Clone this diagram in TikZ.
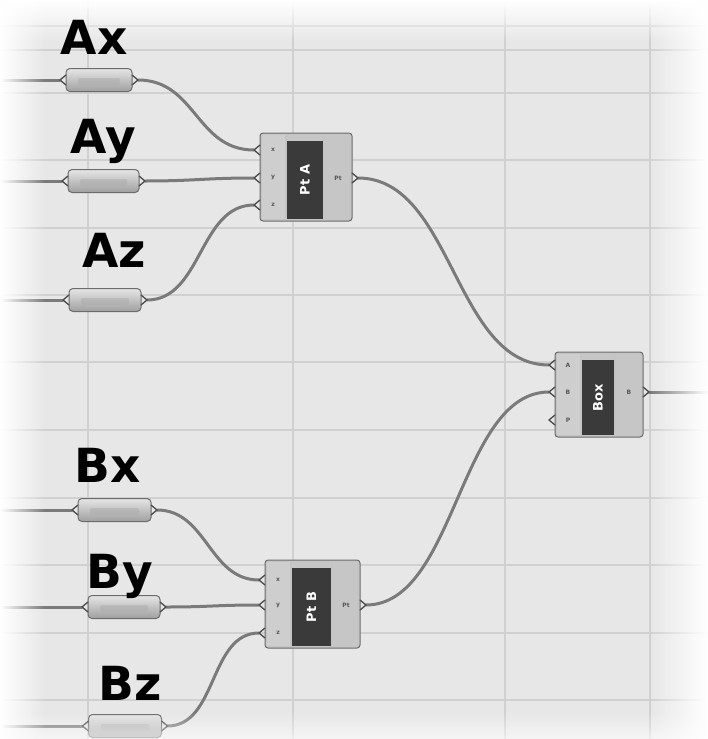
\documentclass[tikz,border=0pt]{standalone}
\usepackage{fontspec}
\setmainfont{DejaVu Sans}
\usetikzlibrary{fadings,calc}

\definecolor{canvasbg}{HTML}{E7E7E7}
\definecolor{gridcol}{HTML}{D0D0D0}
\definecolor{wirecol}{HTML}{7A7A7A}
\definecolor{framecol}{HTML}{6C6C6C}
\definecolor{bodycol}{HTML}{C4C4C4}
\definecolor{colcol}{HTML}{CECECE}
\definecolor{darkcol}{HTML}{3A3A3A}

\pgfdeclarelayer{canvas}
\pgfdeclarelayer{wires}
\pgfsetlayers{canvas,wires,main}

\tikzset{
  gridline/.style={gridcol, line width=1.6pt},
  wire/.style={wirecol, line width=3pt, line cap=round},
  grip/.style={framecol!70!black, line width=1.3pt, line join=round, line cap=round},
  compframe/.style={draw=framecol, fill=bodycol, line width=1pt, rounded corners=3pt,
    inner sep=0pt, outer sep=0pt},
  pinlabel/.style={font=\bfseries\fontsize{6}{6}\selectfont, text=darkcol!85, inner sep=0pt},
  comptitle/.style={font=\bfseries\fontsize{13}{13}\selectfont, text=white, rotate=90, inner sep=0pt},
  capsule/.style={draw=framecol, line width=1pt, rounded corners=4pt,
    top color=gray!20, bottom color=gray!75, inner sep=0pt, outer sep=0pt},
  bigname/.style={font=\bfseries\fontsize{47}{47}\selectfont, text=black, anchor=base, inner sep=0pt},
}

% number parameter: #1 name, #2 centre x, #3 centre y, #4 body width
\newcommand{\ghparam}[4]{%
  \node[capsule, minimum width=#4pt, minimum height=23pt] (#1) at (#2,#3) {};
  \fill[gray!65, opacity=.5, rounded corners=2pt]
    ($(#1.west)+(12,-2)$) rectangle ($(#1.east)+(-12,5)$);
  \draw[grip] ($(#1.west)+(0,-5)$) -- ($(#1.west)+(-6,0)$) -- ($(#1.west)+(0,5)$);
  \draw[grip] ($(#1.east)+(0,-5)$) -- ($(#1.east)+(6,0)$) -- ($(#1.east)+(0,5)$);
  \coordinate (#1-in) at ($(#1.west)+(-6,0)$);
  \coordinate (#1-out) at ($(#1.east)+(6,0)$);
}

% component: #1 name, #2 left, #3 top, #4 width, #5 height, #6 title,
% #7 inputs (offset/label list), #8 output (offset/label)
\newcommand{\ghcomp}[8]{%
  \node[compframe, minimum width=#4pt, minimum height=#5pt, anchor=north west] (#1) at (#2,#3) {};
  \fill[colcol] ($(#1.north west)+(2,2)$) rectangle ($(#1.south west)+(25,-2)$);
  \fill[colcol!96!black] ($(#1.north east)+(-27,2)$) rectangle ($(#1.south east)+(-2,-2)$);
  \fill[darkcol] ($(#1.north west)+(27,2)$) rectangle ($(#1.south east)+(-29,-2)$);
  \fill[gray!45] ($(#1.north west)+(27,2)$) rectangle ($(#1.north east)+(-29,8)$);
  \node[comptitle] at ($(#1.center)+(-1,3)$) {#6};
  \foreach \dy/\lab [count=\k] in {#7} {
    \node[pinlabel] at ($(#1.north west)+(13,\dy)$) {\lab};
    \draw[grip] ($(#1.north west)+(0,\dy-5)$) -- ($(#1.north west)+(-6,\dy)$)
      -- ($(#1.north west)+(0,\dy+5)$);
    \coordinate (#1-in\k) at ($(#1.north west)+(-6,\dy)$);
  }
  \foreach \dy/\lab in {#8} {
    \node[pinlabel] at ($(#1.north east)+(-14,\dy)$) {\lab};
    \draw[grip] ($(#1.north east)+(0,\dy-5)$) -- ($(#1.north east)+(6,\dy)$)
      -- ($(#1.north east)+(0,\dy+5)$);
    \coordinate (#1-out) at ($(#1.north east)+(6,\dy)$);
  }
}

\begin{document}
\begin{tikzpicture}[x=1pt, y=-1pt]
  \useasboundingbox (0,0) rectangle (708,739);

  % canvas and grid
  \begin{pgfonlayer}{canvas}
    \fill[canvasbg] (0,0) rectangle (708,739);
    \foreach \gy in {26,50,93,160,228,295,362,430,498,565,633,700}
      \draw[gridline] (0,\gy) -- (708,\gy);
    \foreach \gx in {88,293,505,650}
      \draw[gridline] (\gx,0) -- (\gx,739);
  \end{pgfonlayer}

  % parameters
  \ghparam{Ax}{99}{80}{66}
  \ghparam{Ay}{103.5}{181}{71}
  \ghparam{Az}{105}{300}{72}
  \ghparam{Bx}{114.5}{510}{73}
  \ghparam{By}{124}{607}{72}
  \ghparam{Bz}{125}{726}{73}

  % components
  \ghcomp{ptA}{260}{133}{92}{88}{Pt A}{17/x,45/y,72/z}{45/Pt}
  \ghcomp{box}{555}{352}{88}{85}{Box}{13/A,40/B,68/P}{40/B}
  \ghcomp{ptB}{265}{560}{95}{88}{Pt B}{20/x,45/y,73/z}{45/Pt}

  % free wire ends
  \coordinate (Ax-src) at (0,80);
  \coordinate (Ay-src) at (0,181);
  \coordinate (Az-src) at (0,300);
  \coordinate (Bx-src) at (0,510);
  \coordinate (By-src) at (0,607);
  \coordinate (Bz-src) at (0,726);
  \coordinate (box-end) at (708,392);

  % wires
  \begin{pgfonlayer}{wires}
    \foreach \p in {Ax,Ay,Az,Bx,By,Bz}
      \draw[wire] (\p-src) -- (\p-in);
    \draw[wire] (Ax-out) .. controls +(58,0) and +(-58,0) .. (ptA-in1);
    \draw[wire] (Ay-out) .. controls +(50,0) and +(-50,0) .. (ptA-in2);
    \draw[wire] (Az-out) .. controls +(55,0) and +(-55,0) .. (ptA-in3);
    \draw[wire] (ptA-out) .. controls +(95,0) and +(-95,0) .. (box-in1);
    \draw[wire] (ptB-out) .. controls +(90,0) and +(-90,0) .. (box-in2);
    \draw[wire] (Bx-out) .. controls +(50,0) and +(-50,0) .. (ptB-in1);
    \draw[wire] (By-out) .. controls +(45,0) and +(-45,0) .. (ptB-in2);
    \draw[wire] (Bz-out) .. controls +(50,0) and +(-50,0) .. (ptB-in3);
    \draw[wire] (box-out) -- (box-end);
  \end{pgfonlayer}

  % white haze along the canvas edges
  \fill[white, path fading=east] (0,0) rectangle (45,739);
  \fill[white, path fading=south] (0,0) rectangle (708,42);
  \fill[white, path fading=west] (650,0) rectangle (708,739);
  \fill[white, opacity=.6, path fading=north] (0,712) rectangle (708,739);

  % names of the inputs
  \node[bigname] (lAx) at (94,54) {Ax};
  \node[bigname] (lAy) at (103,153) {Ay};
  \node[bigname] (lAz) at (114,267) {Az};
  \node[bigname] (lBx) at (108,482) {Bx};
  \node[bigname] (lBy) at (120,588) {By};
  \node[bigname] (lBz) at (130,700) {Bz};
\end{tikzpicture}
\end{document}
